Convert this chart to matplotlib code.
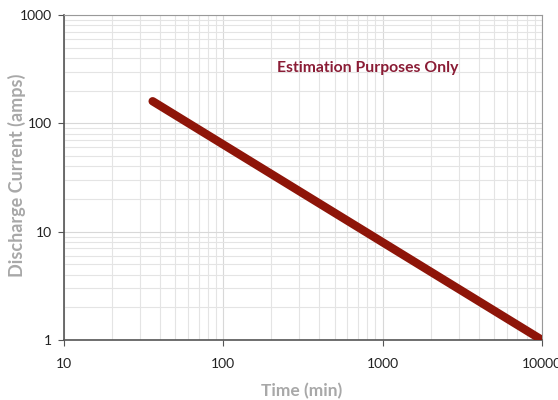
import matplotlib.pyplot as plt
from matplotlib.ticker import FixedLocator, NullFormatter

plt.rcParams['font.family'] = ['Lato', 'DejaVu Sans']

# discharge curve end points (min, amps)
time_min = [36, 10000]
current_amps = [160, 1]

x_ticks = [10, 100, 1000, 10000]
y_ticks = [1, 10, 100, 1000]

fig = plt.figure(figsize=(5.58, 4), dpi=100)
ax = fig.add_axes([0.1147, 0.15, 0.8566, 0.8125])

ax.set_xscale('log')
ax.set_yscale('log')
ax.set_xlim(10, 10000)
ax.set_ylim(1, 1000)

ax.grid(which='major', color='#d8d8d8', lw=0.8)
ax.grid(which='minor', color='#e4e4e4', lw=0.8)
ax.set_axisbelow(True)

ax.plot(time_min, current_amps, color='#8e1509', lw=6, solid_capstyle='round', zorder=3)

ax.xaxis.set_major_locator(FixedLocator(x_ticks))
ax.yaxis.set_major_locator(FixedLocator(y_ticks))
ax.set_xticklabels([str(v) for v in x_ticks])
ax.set_yticklabels([str(v) for v in y_ticks])
ax.xaxis.set_minor_formatter(NullFormatter())
ax.yaxis.set_minor_formatter(NullFormatter())
ax.tick_params(which='major', length=4, width=0.8, color='#555555', labelsize=10,
               labelcolor='#222222')
ax.tick_params(axis='x', pad=9)
ax.tick_params(axis='y', pad=5)
ax.tick_params(which='minor', length=0)

for side in ['left', 'bottom']:
    ax.spines[side].set_color('#555555')
    ax.spines[side].set_linewidth(1.2)
for side in ['top', 'right']:
    ax.spines[side].set_color('#999999')
    ax.spines[side].set_linewidth(0.8)

fig.text(0.541, 0.022, 'Time (min)', ha='center', va='center',
         fontsize=12.5, fontweight='bold', color='#a8a8a8')
fig.text(0.031, 0.5625, 'Discharge Current (amps)', ha='center', va='center', rotation=90,
         fontsize=13, fontweight='bold', color='#a8a8a8')

ax.text(0.445, 0.825, 'Estimation Purposes Only', transform=ax.transAxes,
        fontsize=11.3, fontweight='bold', color='#8a1c35')

fig.savefig('out.png', dpi=100)
